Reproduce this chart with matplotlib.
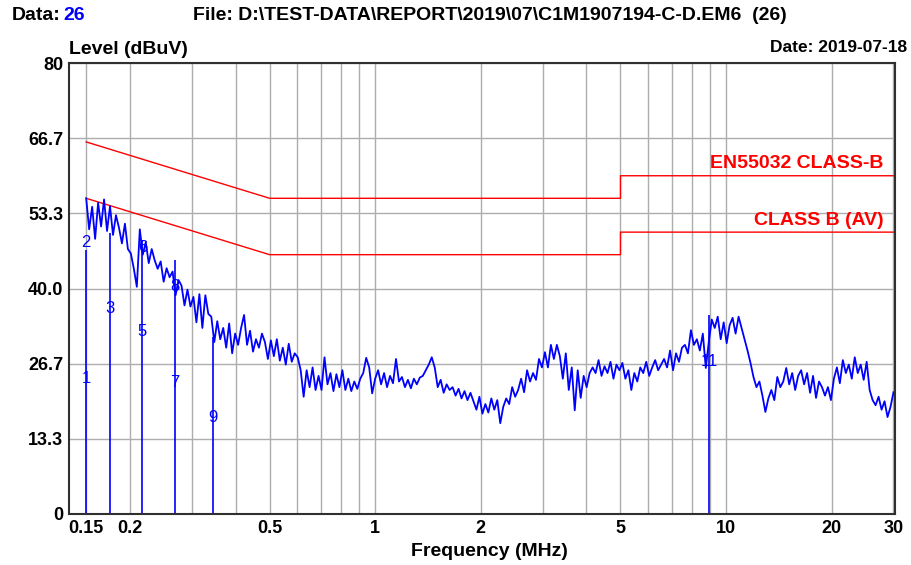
import numpy as np
import matplotlib.pyplot as plt
from matplotlib.ticker import FixedLocator, NullFormatter

plt.rcParams['font.family'] = ['Liberation Sans', 'DejaVu Sans']

# measured trace (dBuV), swept 0.15 - 30 MHz on a log grid
levels = [
    56.0, 50.5, 54.5, 48.8, 55.2,
    51.0, 55.8, 50.2, 54.6,
    49.5, 53.0, 50.8, 48.0, 51.5,
    47.0, 46.2, 43.5,
    40.3, 50.5, 46.0,
    48.2, 44.5, 47.0, 45.0,
    43.5, 44.8, 41.2, 43.6, 42.0,
    43.0, 38.8, 41.5,
    40.5, 37.0, 39.8, 36.8, 38.5,
    34.0, 39.0, 33.0, 38.8, 35.5,
    35.0, 30.5, 34.2, 31.0, 33.0,
    29.5, 33.8, 28.5, 32.0, 30.0, 33.0, 35.3,
    30.0, 32.5, 28.8, 31.0, 29.5, 32.0, 30.5,
    27.5, 30.8, 28.0, 31.0, 27.2,
    29.5, 26.5, 30.2, 27.0, 28.5,
    27.8, 25.5, 20.8,
    25.5, 22.5, 26.0, 22.0, 24.5,
    22.0, 27.8, 23.0, 25.0, 21.8, 24.8, 22.5,
    25.5, 22.0, 24.0, 21.8, 23.5, 22.2, 24.0,
    25.0, 27.7, 26.0, 21.4, 24.0,
    25.5, 23.0, 25.0, 22.5, 24.5, 23.2, 27.5,
    23.5, 24.3, 22.5, 23.8, 22.3, 24.0, 23.0, 24.2,
    24.5, 25.5, 26.5, 27.8, 26.0,
    22.5, 23.8, 21.5, 23.0, 22.0,
    22.5, 21.0, 22.2, 20.5, 21.8, 20.2, 21.5,
    20.0, 18.5, 20.8, 17.8, 19.5, 18.0, 20.5,
    18.5, 20.2, 16.1,
    19.0, 20.5, 19.5, 22.5, 20.8,
    22.0, 24.0, 21.6, 25.5, 23.5,
    25.0, 23.8, 27.5, 26.0, 28.7,
    26.0, 30.0, 27.5, 30.0, 28.0,
    24.0, 28.5, 22.0, 26.0, 18.4,
    25.5, 20.6, 24.5, 22.5, 25.0,
    26.0, 25.0, 27.3, 24.5, 26.2, 25.0, 27.0, 24.0, 26.5, 25.5,
    26.8, 24.0, 25.5, 22.0, 25.0, 23.5, 26.0,
    25.0, 27.0, 24.5, 26.0, 27.3, 25.5, 26.5,
    27.5, 26.0, 29.0, 25.5, 28.5, 27.0, 29.5,
    30.0, 28.5, 32.6, 30.0, 31.0, 29.0, 32.0,
    25.9, 30.5,
    34.5, 33.0, 35.0, 31.0, 34.0, 30.3, 33.5, 34.8,
    32.0, 35.0, 33.0,
    31.0, 29.0, 26.8,
    24.3, 22.5, 23.5,
    21.0, 18.1,
    20.5, 22.0, 20.2, 24.3, 22.5,
    23.5, 25.9, 23.0, 25.0, 22.0, 24.5, 25.5,
    23.0, 25.0, 21.5, 24.5, 20.6, 23.5, 22.5,
    21.0, 22.5, 20.2,
    24.0, 26.0, 23.2, 27.3, 25.0, 26.5, 24.0,
    27.8, 25.0, 26.5, 23.8, 27.0,
    22.0, 20.2, 19.3,
    20.8, 18.5, 20.0, 17.2, 19.0, 21.6,
]
freqs = np.geomspace(0.15, 30, len(levels))

# limit lines
qp_freq = [0.15, 0.5, 5, 5, 30]
qp_level = [66, 56, 56, 60, 60]
av_freq = [0.15, 0.5, 5, 5, 30]
av_level = [56, 46, 46, 50, 50]

# markers (lines drawn up to the higher reading at each frequency)
mk_freq = [0.15, 0.175, 0.217, 0.269, 0.345, 8.95]
mk_top = [46.8, 49.8, 48.6, 45.0, 31.4, 35.3]
# visible marker numbers (4, 10, 12 are buried in the trace)
lab_freq = [0.15, 0.15, 0.175, 0.217, 0.217, 0.269, 0.269, 0.345, 8.95]
lab_level = [24.1, 48.2, 36.5, 32.3, 47.2, 23.4, 40.3, 17.2, 27.0]
lab_text = ['1', '2', '3', '5', '6', '7', '8', '9', '11']

x_ticks = [0.15, 0.2, 0.5, 1, 2, 5, 10, 20, 30]
x_ticklabels = ['0.15', '0.2', '0.5', '1', '2', '5', '10', '20', '30']
x_minor = [0.3, 0.4, 0.6, 0.7, 0.8, 0.9, 3, 4, 6, 7, 8, 9]
y_ticks = [0, 80 / 6, 160 / 6, 40, 320 / 6, 400 / 6, 80]
y_ticklabels = ['0', '13.3', '26.7', '40.0', '53.3', '66.7', '80']

fig = plt.figure(figsize=(9.12, 5.65), dpi=100)
ax = fig.add_axes([69 / 912, 1 - 514 / 565, (895 - 69) / 912, (514 - 63) / 565])

ax.set_xscale('log')
ax.set_xlim(0.134, 30.3)
ax.set_ylim(0, 80)

ax.xaxis.set_major_locator(FixedLocator(x_ticks))
ax.set_xticklabels(x_ticklabels)
ax.xaxis.set_minor_locator(FixedLocator(x_minor))
ax.xaxis.set_minor_formatter(NullFormatter())
ax.set_yticks(y_ticks)
ax.set_yticklabels(y_ticklabels)
ax.tick_params(which='both', length=0, pad=4, labelsize=13)
for lab in ax.get_xticklabels() + ax.get_yticklabels():
    lab.set_fontweight('bold')

ax.grid(True, which='both', color='#adadad', linewidth=1)
ax.set_axisbelow(True)
for sp in ax.spines.values():
    sp.set_color('#303030')
    sp.set_linewidth(1.5)

ax.plot(qp_freq, qp_level, color='#ff0000', linewidth=1)
ax.plot(av_freq, av_level, color='#ff0000', linewidth=1)

ax.vlines(mk_freq, 0, mk_top, color='#0000ff', linewidth=1.2)
for f, lv, t in zip(lab_freq, lab_level, lab_text):
    ax.text(f, lv, t, color='#0000ff', fontsize=12, ha='center', va='center')

ax.plot(freqs, levels, color='#0000ff', linewidth=1.3)

ax.text(0.9865, 60.6, 'EN55032 CLASS-B', transform=ax.get_yaxis_transform(), ha='right', va='bottom',
        color='#ff0000', fontsize=14, fontweight='bold')
ax.text(0.9865, 50.6, 'CLASS B (AV)', transform=ax.get_yaxis_transform(), ha='right', va='bottom',
        color='#ff0000', fontsize=14, fontweight='bold')

fig.text(12 / 912, 1 - 15 / 565, 'Data:', ha='left', va='center', fontsize=14, fontweight='bold')
fig.text(63 / 912, 1 - 15 / 565, '26', ha='left', va='center', fontsize=14, fontweight='bold', color='#0000ff')
fig.text(193 / 912, 1 - 15 / 565, 'File: D:\\TEST-DATA\\REPORT\\2019\\07\\C1M1907194-C-D.EM6  (26)',
         ha='left', va='center', fontsize=14, fontweight='bold')
fig.text(69 / 912, 1 - 50 / 565, 'Level (dBuV)', ha='left', va='center', fontsize=14, fontweight='bold')
fig.text(907 / 912, 1 - 47 / 565, 'Date: 2019-07-18', ha='right', va='center', fontsize=12.5, fontweight='bold')
fig.text(489 / 912, 1 - 552 / 565, 'Frequency (MHz)', ha='center', va='center', fontsize=14, fontweight='bold')

fig.savefig('out.png', dpi=100)
